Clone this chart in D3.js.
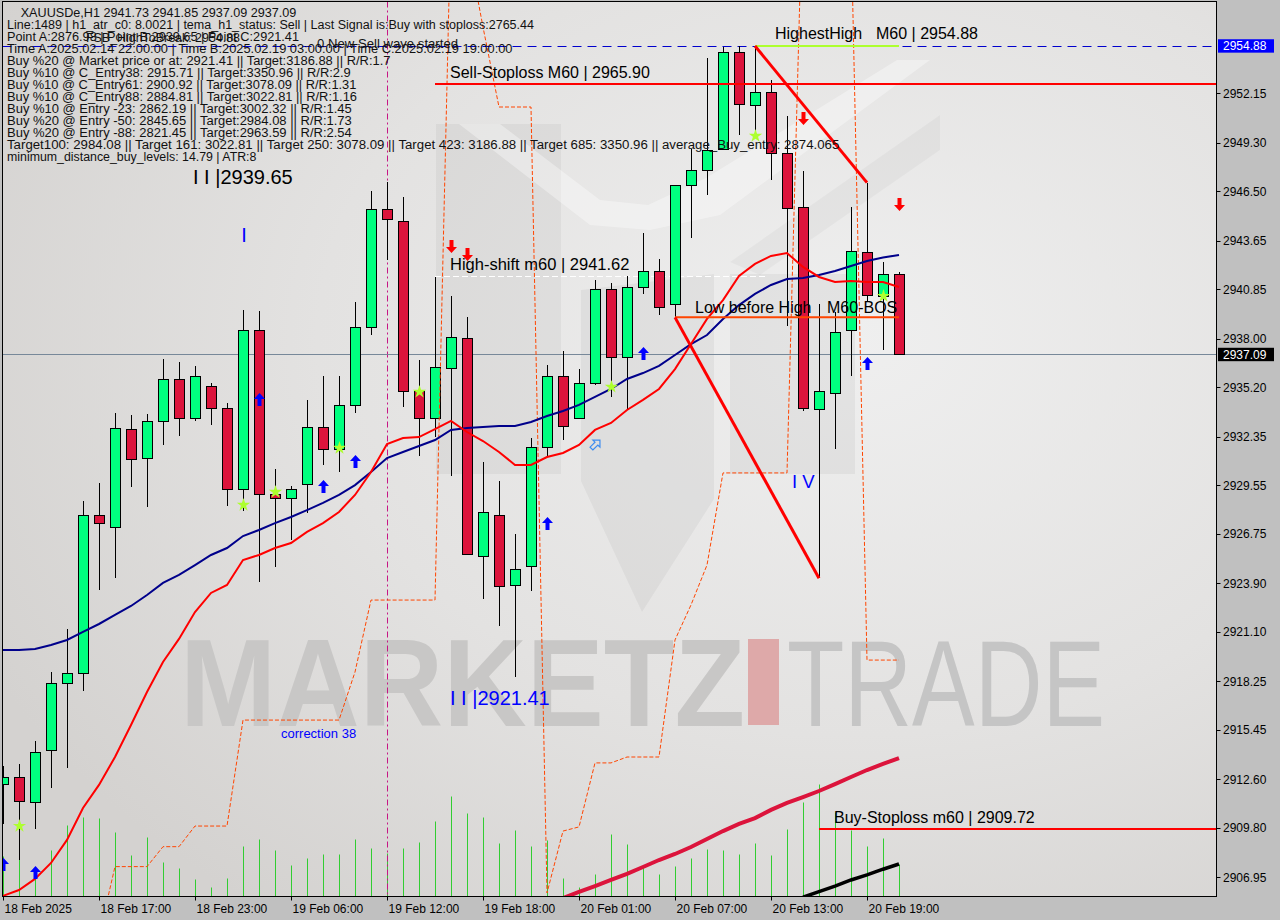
<!DOCTYPE html>
<html><head><meta charset="utf-8">
<script src="https://cdn.jsdelivr.net/npm/d3@7/dist/d3.min.js"></script>
<style>
html,body{margin:0;padding:0;background:#c0c0c0;}
svg{display:block;font-family:"Liberation Sans",Arial,sans-serif;}
</style></head><body>
<svg id="chart" width="1280" height="920"></svg>
<script>
// ---------------- DATA ----------------
const times = [
"02-18 11:00","02-18 12:00","02-18 13:00","02-18 14:00","02-18 15:00","02-18 16:00","02-18 17:00","02-18 18:00","02-18 19:00","02-18 20:00",
"02-18 21:00","02-18 22:00","02-18 23:00","02-19 01:00","02-19 02:00","02-19 03:00","02-19 04:00","02-19 05:00","02-19 06:00","02-19 07:00",
"02-19 08:00","02-19 09:00","02-19 10:00","02-19 11:00","02-19 12:00","02-19 13:00","02-19 14:00","02-19 15:00","02-19 16:00","02-19 17:00",
"02-19 18:00","02-19 19:00","02-19 20:00","02-19 21:00","02-19 22:00","02-19 23:00","02-20 01:00","02-20 02:00","02-20 03:00","02-20 04:00",
"02-20 05:00","02-20 06:00","02-20 07:00","02-20 08:00","02-20 09:00","02-20 10:00","02-20 11:00","02-20 12:00","02-20 13:00","02-20 14:00",
"02-20 15:00","02-20 16:00","02-20 17:00","02-20 18:00","02-20 19:00","02-20 20:00","02-20 21:00"];

const open = [
2912.32,2912.71,2911.27,2914.27,2918.13,2918.71,2927.82,2927.13,2932.78,2931.10,
2933.24,2935.66,2933.41,2935.26,2933.99,2929.32,2938.49,2929.03,2928.80,2929.61,
2932.89,2931.62,2934.16,2938.66,2945.46,2944.77,2934.97,2933.41,2936.29,2938.02,
2925.45,2927.82,2923.78,2924.88,2931.74,2935.83,2933.41,2935.43,2940.85,2936.93,
2940.98,2941.88,2939.98,2946.84,2947.70,2948.94,2954.51,2951.48,2952.20,2948.73,
2945.57,2933.93,2934.86,2938.50,2943.02,2940.46,2941.73];
const high = [
2913.36,2913.48,2914.80,2918.78,2921.26,2928.64,2929.68,2933.72,2933.60,2933.66,
2936.83,2936.66,2936.43,2935.45,2934.28,2939.65,2939.60,2930.49,2929.51,2934.47,
2935.85,2935.85,2940.12,2946.52,2947.02,2946.17,2936.77,2941.58,2940.46,2939.25,
2930.87,2929.80,2926.72,2932.29,2936.47,2937.27,2936.24,2941.39,2941.21,2941.62,
2944.10,2942.60,2946.84,2948.94,2954.17,2954.80,2954.85,2954.88,2952.92,2950.84,
2947.67,2940.00,2939.54,2945.61,2947.00,2942.44,2941.85];
const low = [
2910.02,2907.94,2909.73,2912.11,2913.27,2917.70,2923.53,2924.22,2929.47,2928.31,
2931.89,2932.41,2933.27,2933.04,2928.37,2928.08,2923.99,2924.85,2926.39,2927.93,
2930.74,2930.33,2933.73,2938.23,2942.54,2934.08,2931.25,2932.35,2930.10,2925.57,
2923.01,2921.41,2918.51,2923.47,2931.25,2932.14,2933.35,2935.33,2934.66,2933.89,
2940.58,2939.37,2939.23,2943.81,2946.29,2948.94,2949.72,2949.63,2947.15,2938.71,
2933.81,2924.19,2931.66,2935.87,2940.20,2937.37,2937.09];
const close = [
2912.73,2911.33,2914.15,2918.13,2918.71,2927.82,2927.36,2932.83,2931.05,2933.24,
2935.66,2933.41,2935.83,2933.99,2929.32,2938.49,2929.03,2928.80,2929.32,2932.89,
2931.62,2934.16,2938.66,2945.46,2944.89,2934.97,2933.41,2936.35,2938.08,2925.57,
2927.99,2923.72,2924.70,2931.74,2935.83,2932.95,2935.43,2940.85,2936.93,2940.96,
2941.88,2939.83,2946.84,2947.70,2948.88,2954.51,2951.52,2952.20,2948.70,2945.54,
2934.01,2935.00,2938.40,2943.03,2940.52,2941.71,2937.09];
const volume = [
1000,925,675,1150,1775,1975,1950,1600,1025,1475,
850,700,425,225,450,1250,1425,1150,775,950,
1050,1050,1425,1200,1075,1200,1350,1875,2500,2075,
1975,1325,1650,1250,1400,450,225,550,1550,1300,
750,550,750,950,1175,1150,1050,1325,1025,1675,
2350,2800,2100,1650,1250,1450,800];
const maSlow = [
2920.05,2920.05,2920.11,2920.34,2920.63,2921.09,2921.55,2922.07,2922.59,2923.22,
2923.92,2924.38,2924.95,2925.53,2925.93,2926.62,2926.97,2927.37,2927.72,2928.12,
2928.53,2928.99,2929.56,2930.31,2931.12,2931.47,2931.81,2932.16,2932.74,2932.85,
2932.91,2932.97,2932.97,2933.20,2933.54,2933.83,2934.18,2934.64,2935.10,2935.68,
2936.02,2936.43,2937.06,2937.69,2938.21,2939.14,2939.94,2940.58,2941.10,2941.44,
2941.50,2941.67,2941.90,2942.19,2942.48,2942.68,2942.83];
const maFast = [
2905.87,2906.21,2906.85,2907.77,2909.10,2910.94,2912.27,2913.88,2915.73,2917.63,
2919.36,2920.69,2922.24,2923.34,2923.80,2925.24,2925.53,2925.93,2926.22,2926.86,
2927.37,2928.01,2928.99,2930.31,2931.93,2932.27,2932.33,2932.79,2933.26,2932.62,
2932.10,2931.47,2930.72,2930.72,2931.18,2931.41,2931.87,2932.74,2933.14,2933.89,
2934.47,2935.10,2936.25,2937.69,2939.14,2940.23,2941.62,2942.31,2942.77,2942.94,
2942.14,2941.56,2941.27,2941.33,2941.27,2941.27,2940.98];
const bandA = [
null,null,null,null,null,null,2903.56,2907.56,2907.56,2907.56,
2908.71,2908.71,2909.90,2909.90,2909.90,2916.01,2916.01,2916.01,2916.01,2916.01,
2916.01,2916.01,2918.78,2922.93,2922.93,2922.93,2922.93,2922.93,2962.60,null,
null,null,null,null,null,null,null,null,null,null,
null,null,null,null,null,null,null,null,null,null,
null,null,null,null,null,null,null];
const bandB = [
null,null,null,null,null,null,null,null,null,null,
null,null,null,null,null,null,null,null,null,null,
null,null,null,null,null,null,null,null,null,2960.87,
2955.97,2951.36,2951.36,2951.36,2906.04,2909.61,2909.85,2913.54,2913.54,2913.88,
2913.88,2913.88,2920.63,2922.65,2924.95,2930.26,2930.26,2930.26,2930.26,2930.26,
2964.45,null,null,2961.91,2919.47,2919.47,2919.47];
const trendLong = [
null,null,null,null,null,null,null,null,null,null,
null,null,null,null,null,null,null,null,null,null,
null,null,null,null,null,null,null,null,null,null,
null,null,null,null,null,2905.75,2906.10,2906.44,2906.79,2907.14,
2907.54,2907.94,2908.29,2908.69,2909.15,2909.61,2910.02,2910.36,2910.83,2911.23,
2911.57,2911.92,2912.32,2912.73,2913.13,2913.48,2913.82];
const trendShort = [
null,null,null,null,null,null,null,null,null,null,
null,null,null,null,null,null,null,null,null,null,
null,null,null,null,null,null,null,null,null,null,
null,null,null,null,null,null,null,null,null,null,
null,null,null,null,null,null,null,null,null,null,
2905.80,2906.12,2906.44,2906.79,2907.08,2907.41,2907.71];

const yTicks = [2952.15,2949.30,2946.50,2943.65,2940.85,2938.00,2935.20,2932.35,2929.55,2926.75,2923.90,2921.10,2918.25,2915.45,2912.60,2909.80,2906.95];
const xTickIdx = [0,6,12,18,24,30,36,42,48,54];
const xTickLabels = ["18 Feb 2025","18 Feb 17:00","18 Feb 23:00","19 Feb 06:00","19 Feb 12:00","19 Feb 18:00","20 Feb 01:00","20 Feb 07:00","20 Feb 13:00","20 Feb 19:00"];

const arrowUpIdx = [0,2,16,20,22,34,40,54];
const arrowUpPrice = [2908.06,2907.60,2934.87,2929.85,2931.29,2927.72,2937.52,2936.95];
const arrowDownIdx = [28,29,50,56];
const arrowDownPrice = [2943.69,2943.23,2951.07,2946.11];
const starIdx = [1,15,17,21,26,38,47,55];
const starPrice = [2909.90,2928.41,2929.16,2931.70,2934.93,2935.22,2949.69,2940.46];
const hollowIdx = [37];
const hollowPrice = [2931.87];

const levelHighest = 2954.88, levelSellStop = 2952.69, levelHighShift = 2941.62, levelBuyStop = 2909.73, lastPrice = 2937.09;

const infoText = [
"XAUUSDe,H1  2941.73 2941.85 2937.09 2937.09",
"Line:1489 | h1_atr_c0: 8.0021 | tema_h1_status: Sell | Last Signal is:Buy with stoploss:2765.44",
"Point A:2876.98 | Point B:2939.65 | Point C:2921.41",
"Time A:2025.02.14 22:00:00 | Time B:2025.02.19 03:00:00 | Time C:2025.02.19 19:00:00",
"Buy %20 @ Market price or at: 2921.41 || Target:3186.88 || R/R:1.7",
"Buy %10 @ C_Entry38: 2915.71 || Target:3350.96 || R/R:2.9",
"Buy %10 @ C_Entry61: 2900.92 || Target:3078.09 || R/R:1.31",
"Buy %10 @ C_Entry88: 2884.81 || Target:3022.81 || R/R:1.16",
"Buy %10 @ Entry -23: 2862.19 || Target:3002.32 || R/R:1.45",
"Buy %20 @ Entry -50: 2845.65 || Target:2984.08 || R/R:1.73",
"Buy %20 @ Entry -88: 2821.45 || Target:2963.59 || R/R:2.54",
"Target100: 2984.08 || Target 161: 3022.81 || Target 250: 3078.09 || Target 423: 3186.88 || Target 685: 3350.96 || average_Buy_entry: 2874.065",
"minimum_distance_buy_levels: 14.79 | ATR:8"];

// ---------------- LAYOUT ----------------
const W = 1280, H = 920;
const P = {left: 2.5, top: 1.5, right: 1216.5, bottom: 896.5};
const svg = d3.select("#chart");
const defs = svg.append("defs");
const rg = defs.append("radialGradient").attr("id","bg").attr("cx","0.70").attr("cy","0.38").attr("r","0.80");
rg.append("stop").attr("offset","0").attr("stop-color","#efefef");
rg.append("stop").attr("offset","0.55").attr("stop-color","#e3e2e1");
rg.append("stop").attr("offset","1").attr("stop-color","#d4d2d0");
defs.append("clipPath").attr("id","clip").append("rect")
  .attr("x",P.left).attr("y",P.top).attr("width",P.right-P.left).attr("height",P.bottom-P.top);

svg.append("rect").attr("width",W).attr("height",H).attr("fill","#c0c0c0");
svg.append("rect").attr("x",P.left).attr("y",P.top).attr("width",P.right-P.left).attr("height",P.bottom-P.top).attr("fill","url(#bg)");

const y = d3.scaleLinear().domain([2952.15, 2906.95]).range([93.3, 877.2]);
const xb = d3.scaleBand().domain(times).range([-5, -5 + 16*times.length]).padding(0);
const cx = i => xb(times[i]) + xb.bandwidth()/2;
const vy = d3.scaleLinear().domain([0, 3000]).range([P.bottom, P.bottom - 120]);
const crisp = v => Math.round(v) + 0.5;

const g = svg.append("g").attr("clip-path","url(#clip)");

// watermark
const wm = g.append("g");
const dark = "rgba(0,0,0,0.045)", light = "rgba(255,255,255,0.35)";
wm.append("rect").attr("x",436).attr("y",124).attr("width",125).attr("height",350).attr("fill",dark);
wm.append("rect").attr("x",730).attr("y",274).attr("width",125).attr("height",200).attr("fill",dark);
wm.append("path").attr("d","M581,290 L714,274 L714,499 L642,612 L581,481 Z").attr("fill",dark);
wm.append("path").attr("d","M459,124 L500,124 L600,200 L648,205 L706,178 L897,60 L930,60 L720,215 L650,230 L590,225 Z").attr("fill",light);
wm.append("path").attr("d","M730,262 L940,115 L940,150 L760,275 Z").attr("fill","rgba(0,0,0,0.03)");
wm.append("text").attr("x",180).attr("y",726).attr("font-size",124).attr("font-weight","bold")
  .attr("fill","#c8c7c6").attr("textLength",565).attr("lengthAdjust","spacingAndGlyphs").text("MARKETZ");
wm.append("rect").attr("x",748).attr("y",639).attr("width",31).attr("height",86).attr("fill","#dea9a9");
wm.append("text").attr("x",787).attr("y",726).attr("font-size",122)
  .attr("fill","#c5c5c5").attr("textLength",318).attr("lengthAdjust","spacingAndGlyphs").text("TRADE");

// volumes
g.append("g").selectAll("line").data(volume).join("line")
  .attr("x1",(d,i)=>cx(i)+0.5).attr("x2",(d,i)=>cx(i)+0.5)
  .attr("y1",P.bottom).attr("y2",d=>vy(d)).attr("stroke","#32cd32").attr("stroke-width",1);

// vertical magenta line
g.append("line").attr("x1",cx(24)+0.5).attr("x2",cx(24)+0.5).attr("y1",P.top).attr("y2",P.bottom)
  .attr("stroke","#c71585").attr("stroke-width",1).attr("stroke-dasharray","6,3,2,3");

// horizontal levels
g.append("line").attr("x1",P.left).attr("x2",P.right).attr("y1",crisp(y(levelHighest))).attr("y2",crisp(y(levelHighest)))
  .attr("stroke","#0000cd").attr("stroke-dasharray","9,6");
g.append("line").attr("x1",P.left).attr("x2",P.right).attr("y1",crisp(y(lastPrice))).attr("y2",crisp(y(lastPrice)))
  .attr("stroke","#778899");
g.append("line").attr("x1",cx(27)).attr("x2",cx(48)-3).attr("y1",crisp(y(levelHighShift))).attr("y2",crisp(y(levelHighShift)))
  .attr("stroke","#ffffff").attr("stroke-dasharray","6,3");

// candles
const cg = g.append("g").attr("shape-rendering","crispEdges");
times.forEach((t,i)=>{
  const c = Math.round(cx(i));
  cg.append("line").attr("x1",c+0.5).attr("x2",c+0.5).attr("y1",y(high[i])).attr("y2",y(low[i])).attr("stroke","#000");
  const top = crisp(y(Math.max(open[i],close[i]))), bot = crisp(y(Math.min(open[i],close[i])));
  cg.append("rect").attr("x",c-4.5).attr("y",top).attr("width",10).attr("height",Math.max(bot-top,1))
    .attr("fill", close[i] >= open[i] ? "#00ff7f" : "#dc143c").attr("stroke","#000").attr("stroke-width",1);
});

// lines
const lineOf = arr => d3.line().defined(d=>d!=null).x((d,i)=>cx(i)).y(d=>y(d))(arr);
g.append("path").attr("d",lineOf(bandA)).attr("fill","none").attr("stroke","#ff4500").attr("stroke-dasharray","4,2");
g.append("path").attr("d",lineOf(bandB)).attr("fill","none").attr("stroke","#ff4500").attr("stroke-dasharray","4,2");
g.append("path").attr("d",lineOf(maSlow)).attr("fill","none").attr("stroke","#00008b").attr("stroke-width",2);
g.append("path").attr("d",lineOf(maFast)).attr("fill","none").attr("stroke","#ff0000").attr("stroke-width",2);
g.append("path").attr("d",lineOf(trendLong)).attr("fill","none").attr("stroke","#dc143c").attr("stroke-width",4);
g.append("path").attr("d",lineOf(trendShort)).attr("fill","none").attr("stroke","#000").attr("stroke-width",3.5);

// level segments
g.append("line").attr("x1",cx(27)).attr("x2",P.right).attr("y1",y(levelSellStop)).attr("y2",y(levelSellStop))
  .attr("stroke","#ff0000").attr("stroke-width",2);
g.append("line").attr("x1",cx(51)).attr("x2",P.right).attr("y1",y(levelBuyStop)).attr("y2",y(levelBuyStop))
  .attr("stroke","#ff0000").attr("stroke-width",2);
g.append("line").attr("x1",cx(42)).attr("x2",cx(56)).attr("y1",y(low[42])).attr("y2",y(low[42]))
  .attr("stroke","#ff4500").attr("stroke-width",2);
g.append("line").attr("x1",cx(47)).attr("x2",cx(56)).attr("y1",y(levelHighest)).attr("y2",y(levelHighest))
  .attr("stroke","#adff2f").attr("stroke-width",2);
// zigzag legs
g.append("line").attr("x1",cx(42)).attr("y1",y(low[42])).attr("x2",cx(51)).attr("y2",y(low[51]))
  .attr("stroke","#ff0000").attr("stroke-width",3);
g.append("line").attr("x1",cx(47)).attr("y1",y(high[47])).attr("x2",cx(54)).attr("y2",y(high[54]))
  .attr("stroke","#ff0000").attr("stroke-width",3);

// markers
arrowUpIdx.forEach((i,k)=>{
  const x0 = cx(i)+0.5, t = y(arrowUpPrice[k]);
  g.append("path").attr("d",`M${x0},${t} l5.5,6 l-3.5,0 l0,7 l-4,0 l0,-7 l-3.5,0 Z`).attr("fill","#0000ff");
});
arrowDownIdx.forEach((i,k)=>{
  const x0 = cx(i)+0.5, t = y(arrowDownPrice[k]);
  g.append("path").attr("d",`M${x0-2},${t} l4,0 l0,7 l3.5,0 l-5.5,6 l-5.5,-6 l3.5,0 Z`).attr("fill","#ff0000");
});
const star = d3.symbol().type(d3.symbolStar).size(55);
starIdx.forEach((i,k)=>{
  g.append("path").attr("d",star()).attr("transform",`translate(${cx(i)+0.5},${y(starPrice[k])})`).attr("fill","#adff2f");
});
hollowIdx.forEach((i,k)=>{
  g.append("path").attr("d","M0,-7 l5,5 l-3,0 l0,7 l-4,0 l0,-7 l-3,0 Z")
    .attr("transform",`translate(${cx(i)},${y(hollowPrice[k])}) rotate(45)`)
    .attr("fill","none").attr("stroke","#3c8cf0").attr("stroke-width",1.2);
});

// annotation texts
const T = (x0,y0,txt,size,fill,anchor) => g.append("text").attr("x",x0).attr("y",y0).attr("font-size",size)
  .attr("fill",fill).attr("text-anchor",anchor||"start").text(txt);
T(cx(15)-50, y(2946.90), "I I |2939.65", 20, "#000");
T(cx(15)+1, y(2943.59), "I", 20, "#0000ff", "middle");
T(cx(31)-49, y(2916.88), "I I |2921.41", 20, "#0000ff");
T(cx(51)-27, y(2929.39), "I V", 18.5, "#0000ff");
T(cx(17)+6, y(2914.98), "correction 38", 13, "#0000ff");
T(cx(47)+20, y(2955.28), "HighestHigh", 16, "#000");
T(cx(47)+121, y(2955.28), "M60 | 2954.88", 16, "#000");
T(cx(27)+15, y(2953.03), "Sell-Stoploss M60 | 2965.90", 16, "#000");
T(cx(27)+15, y(2941.96), "High-shift m60 | 2941.62", 16.5, "#000");
T(cx(42)+20, y(2939.48), "Low before High", 16, "#000");
T(cx(42)+152, y(2939.48), "M60-BOS", 16, "#000");
T(cx(51)+15, y(2910.06), "Buy-Stoploss m60 | 2909.72", 16, "#000");

// info block
const infoX = [20.7,7,7,7,7,7,7,7,7,7,7,7,7];
const infoW = [275.7,527,292,505.5,383.4,343.7,349.4,350,344.8,344.8,344.8,832.3,249.4];
const ig = svg.append("g");
infoText.forEach((s,k)=>{
  ig.append("text").attr("x",infoX[k]).attr("y",16.8+12.05*k).attr("font-size",12).attr("fill","#111")
    .attr("textLength",infoW[k]).attr("lengthAdjust","spacingAndGlyphs").text(s);
});
ig.append("text").attr("x",86).attr("y",42).attr("font-size",12.3).attr("fill","#111")
  .attr("textLength",154).attr("lengthAdjust","spacingAndGlyphs").text("FSB_HighToBreak: 2954.88");
ig.append("text").attr("x",317).attr("y",48).attr("font-size",13).attr("fill","#111")
  .attr("textLength",141).attr("lengthAdjust","spacingAndGlyphs").text("0 New Sell wave started");

// frame
svg.append("rect").attr("x",P.left).attr("y",P.top).attr("width",P.right-P.left).attr("height",P.bottom-P.top)
  .attr("fill","none").attr("stroke","#000").attr("stroke-width",1);

// right axis
const ax = svg.append("g");
yTicks.forEach(v=>{
  const yy = crisp(y(v));
  ax.append("line").attr("x1",P.right).attr("x2",P.right+4).attr("y1",yy).attr("y2",yy).attr("stroke","#000");
  ax.append("text").attr("x",1223).attr("y",y(v)+4.5).attr("font-size",12).attr("fill","#000").text(v.toFixed(2));
});
[[levelHighest,"#0000ff"],[lastPrice,"#000000"]].forEach(([v,col])=>{
  ax.append("rect").attr("x",1218).attr("y",y(v)-6.7).attr("width",56).attr("height",13.4).attr("fill",col);
  ax.append("text").attr("x",1223).attr("y",y(v)+4.5).attr("font-size",12).attr("fill","#fff").text(v.toFixed(2));
});

// bottom axis
xTickIdx.forEach((i,k)=>{
  const xx = Math.round(cx(i))+0.5;
  ax.append("line").attr("x1",xx).attr("x2",xx).attr("y1",P.bottom).attr("y2",P.bottom+4).attr("stroke","#000");
  ax.append("text").attr("x",xx+1).attr("y",913).attr("font-size",12).attr("fill","#000").text(xTickLabels[k]);
});
</script>
</body></html>
